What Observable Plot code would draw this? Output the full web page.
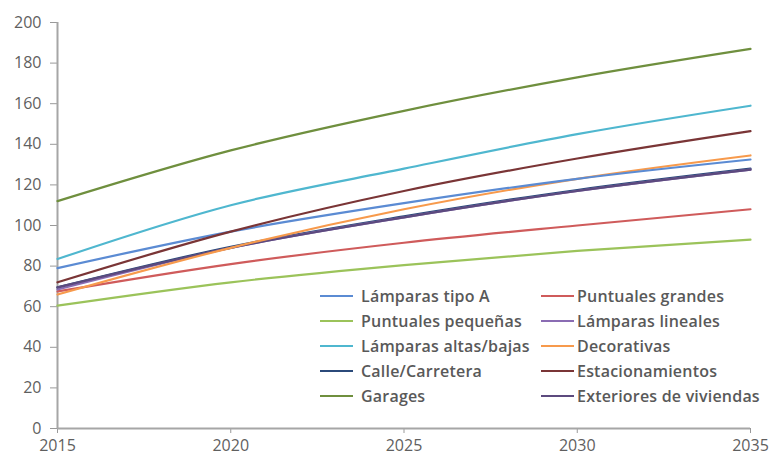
<!DOCTYPE html>
<html>
<head>
<meta charset="utf-8">
<script src="https://cdn.jsdelivr.net/npm/d3@7"></script>
<script src="https://cdn.jsdelivr.net/npm/@observablehq/plot@0.6"></script>
<style>
  html, body { margin: 0; padding: 0; background: #fff; }
  #wrap { position: relative; width: 771px; height: 457px; overflow: hidden; }
  #legend { position: absolute; left: 0; top: 0; font-family: "Open Sans", Lato, sans-serif; font-weight: 600; font-size: 16px; letter-spacing: 0.2px; color: #595959; }
  .item { position: absolute; display: flex; align-items: center; white-space: nowrap; height: 22px; }
  .sw { width: 33px; height: 0; border-top: 2.5px solid; }
</style>
</head>
<body>
<div id="wrap"></div>
<script>
const years = [2015, 2020, 2025, 2030, 2035];
const seriesNames = [
  "Lámparas tipo A", "Puntuales grandes",
  "Puntuales pequeñas", "Lámparas lineales",
  "Lámparas altas/bajas", "Decorativas",
  "Calle/Carretera", "Estacionamientos",
  "Garages", "Exteriores de viviendas"
];
const seriesColors = [
  "#5b8bd3", "#cf5b5b",
  "#9bc35a", "#8a6cb3",
  "#4fb7cf", "#f79a4c",
  "#2b4a7a", "#7a3536",
  "#6f8f3e", "#5c4a7e"
];
const lamparasTipoA      = [79, 97, 111, 123, 132.5];
const puntualesGrandes   = [67.5, 81, 91.5, 100, 108];
const puntualesPequenas  = [60.5, 72, 80.5, 87.5, 93];
const lamparasLineales   = [68.5, 89, 104, 117, 127.5];
const lamparasAltasBajas = [83.5, 110, 128, 145, 159];
const decorativas        = [66, 89, 108, 123, 134.5];
const calleCarretera     = [69.5, 89.5, 104.5, 117.5, 128];
const estacionamientos   = [72, 97, 117, 133, 146.5];
const garages            = [112, 137, 156.5, 173, 187];
const exterioresViviendas= [69.5, 89, 104, 117, 127.5];

const seriesValues = [
  lamparasTipoA, puntualesGrandes, puntualesPequenas, lamparasLineales,
  lamparasAltasBajas, decorativas, calleCarretera, estacionamientos,
  garages, exterioresViviendas
];
const yTicks = [0, 20, 40, 60, 80, 100, 120, 140, 160, 180, 200];
const xTicks = [2015, 2020, 2025, 2030, 2035];

// draw order: back to front
const drawOrder = [2, 1, 6, 3, 9, 5, 0, 7, 4, 8];
const data = [];
for (const i of drawOrder) {
  years.forEach((yr, j) => data.push({year: yr, value: seriesValues[i][j], series: seriesNames[i]}));
}

const chart = Plot.plot({
  width: 771,
  height: 457,
  marginLeft: 57,
  marginRight: 21,
  marginTop: 22,
  marginBottom: 29,
  style: {fontFamily: "'Open Sans', Lato, sans-serif", fontSize: "16px", color: "#5f5f5f", background: "#fff"},
  x: {domain: [2015, 2035], label: null},
  y: {domain: [0, 200], label: null},
  color: {domain: seriesNames, range: seriesColors},
  marks: [
    Plot.axisX({ticks: xTicks, tickFormat: d => String(d), tickSize: 5, tickPadding: 6, stroke: "#999", color: "#5f5f5f", label: null}),
    Plot.axisY({ticks: yTicks, tickSize: 7, tickPadding: 9, stroke: "#999", color: "#5f5f5f", label: null}),
    Plot.ruleX([2015], {stroke: "#a6a6a6", strokeWidth: 2}),
    Plot.ruleY([0], {stroke: "#a6a6a6", strokeWidth: 2}),
    Plot.lineY(data, {x: "year", y: "value", z: "series", stroke: "series", strokeWidth: 2.2, curve: "monotone-x"})
  ]
});

const wrap = document.getElementById("wrap");
wrap.appendChild(chart);

const legend = document.createElement("div");
legend.id = "legend";
const colLeft = [320, 541];
const colGap = [8, 3];
const rowTop = 285, rowStep = 25;
seriesNames.forEach((name, i) => {
  const col = i % 2, row = Math.floor(i / 2);
  const item = document.createElement("div");
  item.className = "item";
  item.style.left = colLeft[col] + "px";
  item.style.top = (rowTop + row * rowStep) + "px";
  const sw = document.createElement("span");
  sw.className = "sw";
  sw.style.borderTopColor = seriesColors[i];
  sw.style.marginRight = colGap[col] + "px";
  const tx = document.createElement("span");
  tx.textContent = name;
  item.appendChild(sw);
  item.appendChild(tx);
  legend.appendChild(item);
});
wrap.appendChild(legend);
</script>
</body>
</html>
